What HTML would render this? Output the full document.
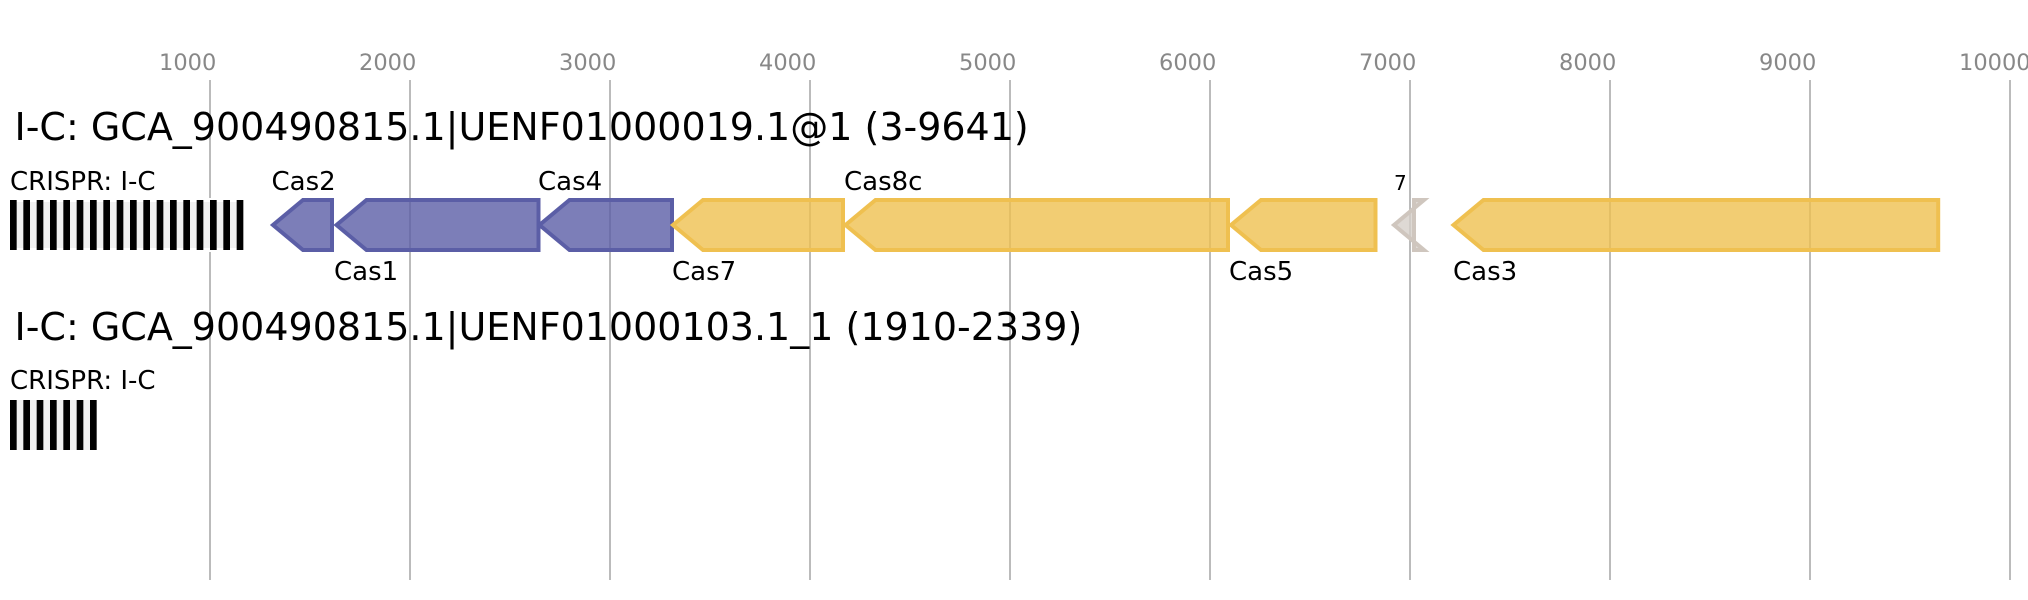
<!DOCTYPE html>
<html>
<head>
<meta charset="utf-8">
<style>
html,body{margin:0;padding:0;background:#fff;width:2028px;height:600px;overflow:hidden}
svg{display:block}
text{font-family:"DejaVu Sans",sans-serif}
.t{font-size:22.5px;fill:#888}
.h{font-size:38px;fill:#000}
.l{font-size:26px;fill:#000}
.g{stroke:#bbb;stroke-width:2}
.b{fill:#5b5ea6;fill-opacity:.8;stroke:#5b5ea6;stroke-width:4}
.y{fill:#efc050;fill-opacity:.8;stroke:#efc050;stroke-width:4}
.u{fill:#d6cfc9;fill-opacity:.8;stroke:#cfc6be;stroke-width:4}
</style>
</head>
<body>
<svg width="2028" height="600" viewBox="0 0 2028 600" xmlns="http://www.w3.org/2000/svg">
<g class="g">
<line x1="210" y1="80" x2="210" y2="580"/>
<line x1="410" y1="80" x2="410" y2="580"/>
<line x1="610" y1="80" x2="610" y2="580"/>
<line x1="810" y1="80" x2="810" y2="580"/>
<line x1="1010" y1="80" x2="1010" y2="580"/>
<line x1="1210" y1="80" x2="1210" y2="580"/>
<line x1="1410" y1="80" x2="1410" y2="580"/>
<line x1="1610" y1="80" x2="1610" y2="580"/>
<line x1="1810" y1="80" x2="1810" y2="580"/>
<line x1="2010" y1="80" x2="2010" y2="580"/>
</g>
<g class="t">
<text x="159" y="70">1000</text>
<text x="359" y="70">2000</text>
<text x="559" y="70">3000</text>
<text x="759" y="70">4000</text>
<text x="959" y="70">5000</text>
<text x="1159" y="70">6000</text>
<text x="1359" y="70">7000</text>
<text x="1559" y="70">8000</text>
<text x="1759" y="70">9000</text>
<text x="1959" y="70">10000</text>
</g>
<text class="h" x="14.5" y="140">I-C: GCA_900490815.1|UENF01000019.1@1 (3-9641)</text>
<text class="l" x="10" y="190">CRISPR: I-C</text>
<rect x="10" y="200" width="233.3" height="50" fill="#f0f0f0" stroke="#fff" stroke-width="4"/>
<g fill="#000">
<rect x="10" y="200" width="6.67" height="50"/>
<rect x="23.33" y="200" width="6.67" height="50"/>
<rect x="36.67" y="200" width="6.67" height="50"/>
<rect x="50" y="200" width="6.67" height="50"/>
<rect x="63.33" y="200" width="6.67" height="50"/>
<rect x="76.67" y="200" width="6.67" height="50"/>
<rect x="90" y="200" width="6.67" height="50"/>
<rect x="103.33" y="200" width="6.67" height="50"/>
<rect x="116.67" y="200" width="6.67" height="50"/>
<rect x="130" y="200" width="6.67" height="50"/>
<rect x="143.33" y="200" width="6.67" height="50"/>
<rect x="156.67" y="200" width="6.67" height="50"/>
<rect x="170" y="200" width="6.67" height="50"/>
<rect x="183.33" y="200" width="6.67" height="50"/>
<rect x="196.67" y="200" width="6.67" height="50"/>
<rect x="210" y="200" width="6.67" height="50"/>
<rect x="223.33" y="200" width="6.67" height="50"/>
<rect x="236.67" y="200" width="6.67" height="50"/>
</g>
<polygon class="b" points="332,200 303,200 273,225 303,250 332,250"/>
<polygon class="b" points="538.5,200 366.5,200 336.5,225 366.5,250 538.5,250"/>
<polygon class="b" points="672,200 569.5,200 539.5,225 569.5,250 672,250"/>
<polygon class="y" points="843,200 703,200 673,225 703,250 843,250"/>
<polygon class="y" points="1228,200 875.5,200 845.5,225 875.5,250 1228,250"/>
<polygon class="y" points="1375.5,200 1261,200 1231,225 1261,250 1375.5,250"/>
<polygon class="u" points="1414,200 1424,200 1394,225 1424,250 1414,250"/>
<polygon class="y" points="1938.2,200 1483.5,200 1453.5,225 1483.5,250 1938.2,250"/>
<text class="l" x="271.5" y="190">Cas2</text>
<text class="l" x="334" y="280">Cas1</text>
<text class="l" x="538" y="190">Cas4</text>
<text class="l" x="672" y="280">Cas7</text>
<text class="l" x="844" y="190">Cas8c</text>
<text class="l" x="1229" y="280">Cas5</text>
<text x="1394" y="190" font-size="20" fill="#000">7</text>
<text class="l" x="1453" y="280">Cas3</text>
<text class="h" x="14.5" y="340">I-C: GCA_900490815.1|UENF01000103.1_1 (1910-2339)</text>
<text class="l" x="10" y="389">CRISPR: I-C</text>
<rect x="10" y="400" width="86.67" height="50" fill="#f0f0f0"/>
<g fill="#000">
<rect x="10" y="400" width="6.67" height="50"/>
<rect x="23.33" y="400" width="6.67" height="50"/>
<rect x="36.67" y="400" width="6.67" height="50"/>
<rect x="50" y="400" width="6.67" height="50"/>
<rect x="63.33" y="400" width="6.67" height="50"/>
<rect x="76.67" y="400" width="6.67" height="50"/>
<rect x="90" y="400" width="6.67" height="50"/>
</g>
</svg>
</body>
</html>
